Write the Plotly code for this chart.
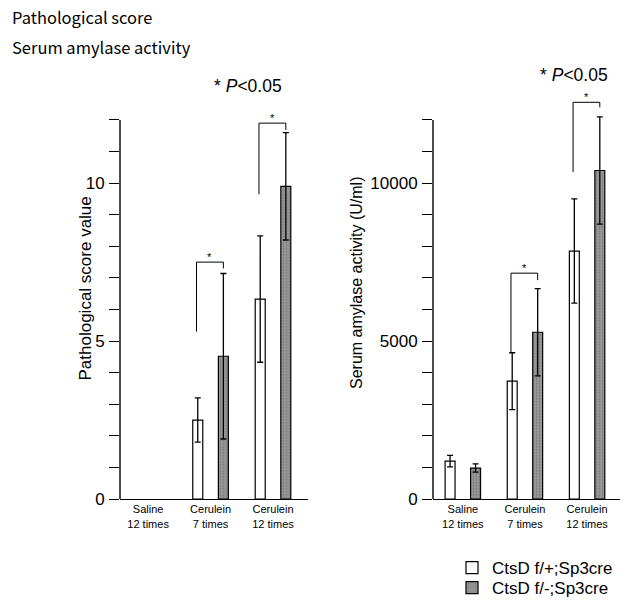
import plotly.graph_objects as go

# ---------------- data ----------------
categories = ["Saline<br>12 times", "Cerulein<br>7 times", "Cerulein<br>12 times"]
groups = ["CtsD f/+;Sp3cre", "CtsD f/-;Sp3cre"]

score_ctrl = [None, 2.5, 6.33]
score_ctrl_err = [None, 0.7, 2.0]
score_ko = [None, 4.52, 9.9]
score_ko_err = [None, 2.62, 1.7]

amy_ctrl = [1200, 3730, 7850]
amy_ctrl_err = [180, 900, 1650]
amy_ko = [980, 5280, 10400]
amy_ko_err = [130, 1380, 1700]

# significance brackets: (category index, bracket top, left leg end, right leg end)
score_sig = [(1, 7.5, 5.3, 7.3), (2, 11.9, 9.65, 11.68)]
amy_sig = [(1, 7150, 4620, 6930), (2, 12560, 10350, 12400)]

score_ticks = list(range(0, 13))
score_labels = ["0", "5", "10"]
amy_ticks = list(range(0, 13000, 1000))
amy_labels = ["0", "5000", "10000"]

# ---------------- style ----------------
W, H = 628, 600
BAR_W = 0.16
OFF = 0.205
GRAY = "#8c8c8c"
ARIAL = "Arial, Liberation Sans, sans-serif"
JP = "Noto Sans CJK JP, Noto Sans, sans-serif"

ydom = [(600 - 499) / 600, (600 - 88.4) / 600]
xdom1 = [120 / W, 308 / W]
xdom2 = [433 / W, 620 / W]

fig = go.Figure()

def add_bars(ctrl, ctrl_err, ko, ko_err, xa, ya, show):
    idx = list(range(len(categories)))
    fig.add_trace(go.Bar(
        x=[i - OFF for i in idx], y=ctrl, width=BAR_W, name=groups[0],
        marker=dict(color="white", line=dict(color="black", width=1.2)),
        error_y=dict(type="data", array=ctrl_err, color="black", thickness=1.3, width=3),
        xaxis=xa, yaxis=ya, showlegend=show, legend="legend"))
    fig.add_trace(go.Bar(
        x=[i + OFF for i in idx], y=ko, width=BAR_W, name=groups[1],
        marker=dict(color=GRAY, line=dict(color="black", width=1.2),
                    pattern=dict(shape=".", fgcolor="#5a5a5a", bgcolor="#9a9a9a", size=3, solidity=0.35)),
        error_y=dict(type="data", array=ko_err, color="black", thickness=1.3, width=3),
        xaxis=xa, yaxis=ya, showlegend=show, legend="legend2"))

add_bars(score_ctrl, score_ctrl_err, score_ko, score_ko_err, "x", "y", True)
add_bars(amy_ctrl, amy_ctrl_err, amy_ko, amy_ko_err, "x2", "y2", False)

def add_brackets(sig, xr, yr, star_dy):
    for (i, top, lb, rb) in sig:
        xl, xr_ = i - OFF - 0.02, i + OFF
        fig.add_shape(type="path",
                      path=f"M {xl} {lb} L {xl} {top} L {xr_} {top} L {xr_} {rb}",
                      xref=xr, yref=yr, line=dict(color="black", width=1))
        fig.add_annotation(x=(xl + xr_) / 2, y=top, xref=xr, yref=yr, text="*",
                           showarrow=False, yshift=star_dy, font=dict(family=ARIAL, size=11, color="black"))

add_brackets(score_sig, "x", "y", 5)
add_brackets(amy_sig, "x2", "y2", 5)

# y axis lines (up to the last tick only)
fig.add_shape(type="line", xref="x domain", yref="y", x0=0, x1=0, y0=0, y1=score_ticks[-1],
              line=dict(color="black", width=1.4))
fig.add_shape(type="line", xref="x2 domain", yref="y2", x0=0, x1=0, y0=0, y1=amy_ticks[-1],
              line=dict(color="black", width=1.4))

def ytick_text(ticks, labels):
    lab = set(labels)
    return [str(t) if str(t) in lab else "" for t in ticks]

xaxis_common = dict(tickmode="array", tickvals=list(range(len(categories))), ticktext=categories,
                    showline=True, linecolor="black", linewidth=1.4, ticks="", showgrid=False,
                    zeroline=False, tickfont=dict(family=ARIAL, size=11, color="black"), fixedrange=True)
yaxis_common = dict(tickmode="array", ticks="outside", ticklen=10, tickwidth=1.2, tickcolor="black",
                    showline=False, showgrid=False, zeroline=False, ticklabelstandoff=1,
                    tickfont=dict(family=ARIAL, size=17, color="black"), domain=ydom, fixedrange=True)

legend_common = dict(x=452 / W, xanchor="left", yanchor="middle",
                     font=dict(family=ARIAL, size=17, color="black"),
                     bgcolor="rgba(0,0,0,0)", itemclick=False, itemdoubleclick=False)

fig.update_layout(
    width=W, height=H, margin=dict(l=0, r=0, t=0, b=0, autoexpand=False),
    paper_bgcolor="white", plot_bgcolor="white",
    barmode="overlay", showlegend=True,
    xaxis=dict(domain=xdom1, range=[-0.45, 2.56], anchor="y", **xaxis_common),
    xaxis2=dict(domain=xdom2, range=[-0.48, 2.53], anchor="y2", **xaxis_common),
    yaxis=dict(range=[0, 13], tickvals=score_ticks, ticktext=ytick_text(score_ticks, score_labels),
               anchor="x", **yaxis_common),
    yaxis2=dict(range=[0, 13000], tickvals=amy_ticks, ticktext=ytick_text(amy_ticks, amy_labels),
                anchor="x2", **yaxis_common),
    legend=dict(y=(600 - 568) / 600, **legend_common),
    legend2=dict(y=(600 - 588) / 600, **legend_common),
)

# titles
fig.add_annotation(x=10 / W, y=(600 - 17) / 600, xref="paper", yref="paper", text="Pathological score",
                   showarrow=False, xanchor="left", yanchor="middle", font=dict(family=JP, size=16.5, color="black"))
fig.add_annotation(x=10 / W, y=(600 - 47) / 600, xref="paper", yref="paper", text="Serum amylase activity",
                   showarrow=False, xanchor="left", yanchor="middle", font=dict(family=JP, size=16.5, color="black"))

# p-value notes
fig.add_annotation(x=212 / W, y=(600 - 86) / 600, xref="paper", yref="paper", text="* <i>P</i><0.05",
                   showarrow=False, xanchor="left", yanchor="middle", font=dict(family=ARIAL, size=17.5, color="black"))
fig.add_annotation(x=538 / W, y=(600 - 75) / 600, xref="paper", yref="paper", text="* <i>P</i><0.05",
                   showarrow=False, xanchor="left", yanchor="middle", font=dict(family=ARIAL, size=17.5, color="black"))

# y axis titles
fig.add_annotation(x=73 / W, y=(600 - 289) / 600, xref="paper", yref="paper", text="Pathological score value",
                   showarrow=False, textangle=-90, font=dict(family=ARIAL, size=17, color="black"))
fig.add_annotation(x=356 / W, y=(600 - 283) / 600, xref="paper", yref="paper", text="Serum amylase activity (U/ml)",
                   showarrow=False, textangle=-90, font=dict(family=ARIAL, size=16, color="black"))

fig.write_html("out.html", config={"displayModeBar": False},
               post_script="document.body.style.margin='0';")
